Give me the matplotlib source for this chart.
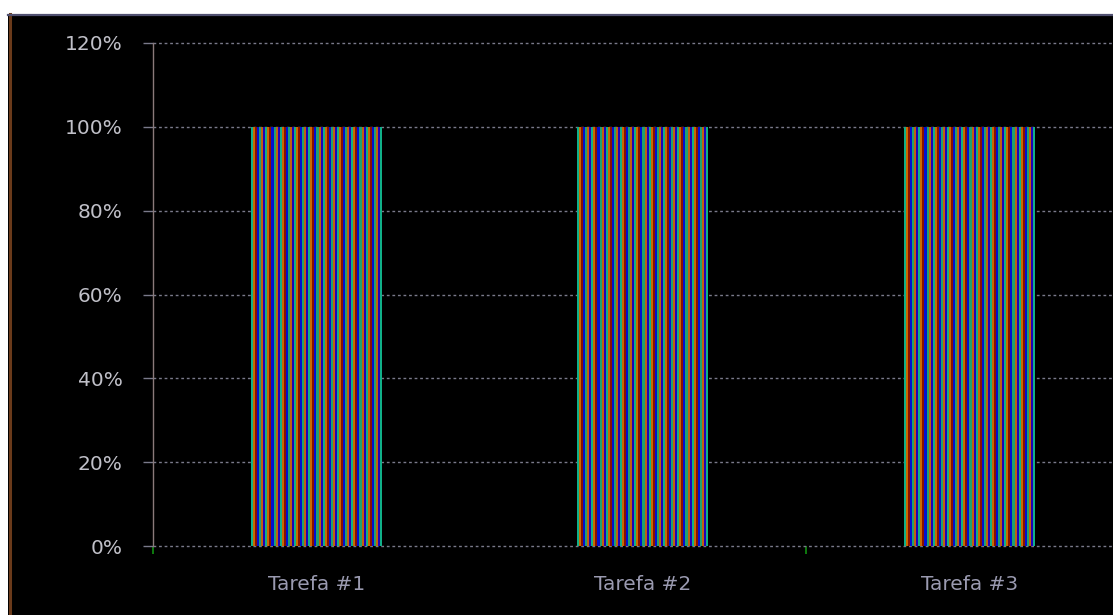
import matplotlib
matplotlib.use("Agg")
import matplotlib.pyplot as plt
import numpy as np
from matplotlib.patches import Rectangle
from matplotlib.lines import Line2D
from matplotlib.ticker import FuncFormatter

# data
tarefas = ["Tarefa #1", "Tarefa #2", "Tarefa #3"]
concluido = [100, 100, 100]
yticks = [0, 20, 40, 60, 80, 100, 120]

W, H = 1113, 615
fig = plt.figure(figsize=(W / 100, H / 100), dpi=100, facecolor="black")

# white strips at top and left edge of the capture
fig.patches.append(Rectangle((0, 1 - 14 / H), 1, 14 / H, transform=fig.transFigure,
                             facecolor="white", edgecolor="none", zorder=0))
fig.patches.append(Rectangle((0, 0), 8 / W, 1, transform=fig.transFigure,
                             facecolor="white", edgecolor="none", zorder=0))
fig.lines.append(Line2D([9.5 / W, 9.5 / W], [0, 1 - 14 / H], transform=fig.transFigure,
                        color="#6a3a1a", lw=2.2))
fig.lines.append(Line2D([8 / W, 1], [1 - 15 / H, 1 - 15 / H], transform=fig.transFigure,
                        color="#505070", lw=1.6))

ax = fig.add_axes([153 / W, 1 - 546 / H, 1 - 153 / W, (546 - 43) / H])
ax.set_facecolor("black")

x = np.arange(len(tarefas))
bars = ax.bar(x, concluido, 0.4, color="none", edgecolor="none", zorder=3)

# striped fill, clipped to each bar
stripe_cols = ["#10b088", "#c86a00", "#8a1000", "#0010d0",
               "#20a070", "#c06010", "#2000b8"]
rgb = np.array([matplotlib.colors.to_rgb(c) for c in stripe_cols])
for b in bars:
    ncol = 64
    img = rgb[np.arange(ncol) % len(stripe_cols)][None, :, :]
    im = ax.imshow(img, extent=(b.get_x(), b.get_x() + b.get_width(), 0, b.get_height()),
                   aspect="auto", interpolation="nearest", zorder=3)
    im.set_clip_path(b)

ax.set_xlim(-0.495, 2.44)
ax.set_ylim(0, 120)
ax.set_yticks(yticks)
ax.yaxis.set_major_formatter(FuncFormatter(lambda v, p: "%d%%" % v))
ax.grid(axis="y", color="#7a7a8a", linestyle=(0, (2, 2)), lw=1.0, zorder=1)
for gl in ax.yaxis.get_gridlines():
    gl.set_clip_on(False)

for s in ["top", "right", "bottom"]:
    ax.spines[s].set_visible(False)
ax.spines["left"].set_color("#8a7a7a")
ax.spines["left"].set_linewidth(1.0)

ax.set_xticks(x)
ax.set_xticklabels(tarefas)
ax.set_xticks([-0.5, 1.5], minor=True)
ax.tick_params(axis="x", which="major", length=0, pad=21, labelsize=14.5, labelcolor="#9a9ab0")
ax.tick_params(axis="x", which="minor", length=6, width=1.2, color="#109010")
ax.tick_params(axis="y", length=7, width=1.0, color="#7a7a8a", pad=15,
               labelsize=14.5, labelcolor="#c0c0c8")

fig.savefig("out.png", dpi=100, facecolor="black")
